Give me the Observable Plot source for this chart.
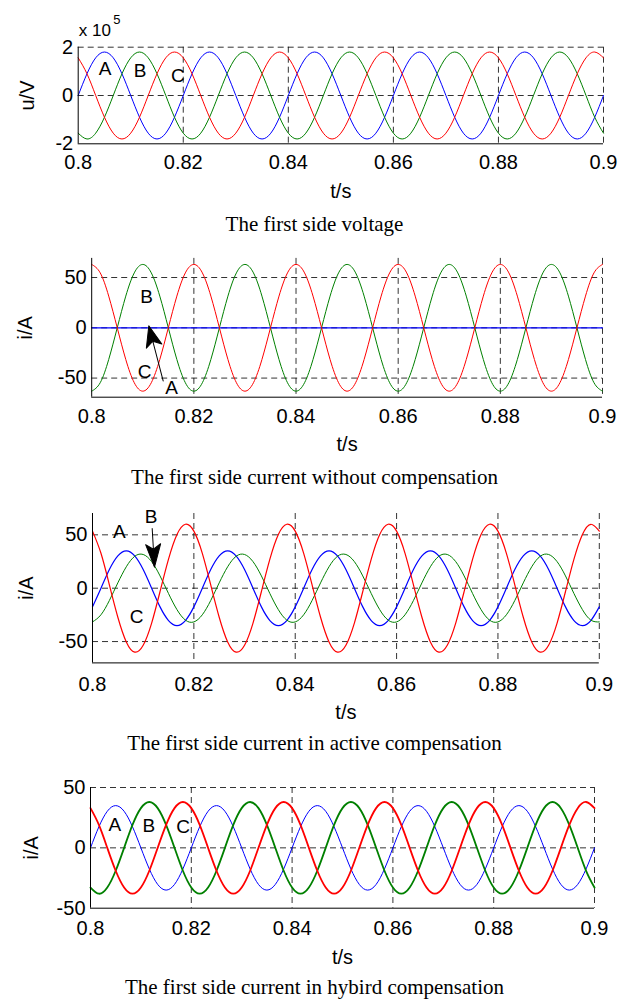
<!DOCTYPE html>
<html>
<head>
<meta charset="utf-8">
<script src="https://cdn.jsdelivr.net/npm/d3@7"></script>
<script src="https://cdn.jsdelivr.net/npm/@observablehq/plot@0.6"></script>
<style>
  body { margin: 0; background: #fff; }
  #wrap { position: relative; width: 622px; height: 999px; overflow: hidden; background: #fff; }
  .cap { position: absolute; left: 0; width: 629px; text-align: center; font-family: "Liberation Serif", "Times New Roman", serif; font-size: 21px; line-height: 21px; color: #000; z-index: 2; white-space: nowrap; }
</style>
</head>
<body>
<div id="wrap"></div>
<script>
// ---------- shared time axis (s) ----------
const t = [0.8,0.80167,0.80333,0.805,0.80667,0.80833,
  0.81,0.81167,0.81333,0.815,0.81667,0.81833,
  0.82,0.82167,0.82333,0.825,0.82667,0.82833,
  0.83,0.83167,0.83333,0.835,0.83667,0.83833,
  0.84,0.84167,0.84333,0.845,0.84667,0.84833,
  0.85,0.85167,0.85333,0.855,0.85667,0.85833,
  0.86,0.86167,0.86333,0.865,0.86667,0.86833,
  0.87,0.87167,0.87333,0.875,0.87667,0.87833,
  0.88,0.88167,0.88333,0.885,0.88667,0.88833,
  0.89,0.89167,0.89333,0.895,0.89667,0.89833,
  0.9];

const xDomain = [0.8, 0.9];
const xTicks = [0.8, 0.82, 0.84, 0.86, 0.88, 0.9];
const xTickLabels = ["0.8", "0.82", "0.84", "0.86", "0.88", "0.9"];
const xLabel = "t/s";
const phases = ["A", "B", "C"];

// ---------- panel 1: first side voltage (x 10^5 V) ----------
const p1A = [0,0.9,1.56,1.8,1.56,0.9,0,-0.9,-1.56,-1.8,-1.56,-0.9,
  0,0.9,1.56,1.8,1.56,0.9,0,-0.9,-1.56,-1.8,-1.56,-0.9,
  0,0.9,1.56,1.8,1.56,0.9,0,-0.9,-1.56,-1.8,-1.56,-0.9,
  0,0.9,1.56,1.8,1.56,0.9,0,-0.9,-1.56,-1.8,-1.56,-0.9,
  0,0.9,1.56,1.8,1.56,0.9,0,-0.9,-1.56,-1.8,-1.56,-0.9,
  0];
const p1B = [-1.56,-1.8,-1.56,-0.9,0,0.9,1.56,1.8,1.56,0.9,0,-0.9,
  -1.56,-1.8,-1.56,-0.9,0,0.9,1.56,1.8,1.56,0.9,0,-0.9,
  -1.56,-1.8,-1.56,-0.9,0,0.9,1.56,1.8,1.56,0.9,0,-0.9,
  -1.56,-1.8,-1.56,-0.9,0,0.9,1.56,1.8,1.56,0.9,0,-0.9,
  -1.56,-1.8,-1.56,-0.9,0,0.9,1.56,1.8,1.56,0.9,0,-0.9,
  -1.56];
const p1C = [1.56,0.9,0,-0.9,-1.56,-1.8,-1.56,-0.9,0,0.9,1.56,1.8,
  1.56,0.9,0,-0.9,-1.56,-1.8,-1.56,-0.9,0,0.9,1.56,1.8,
  1.56,0.9,0,-0.9,-1.56,-1.8,-1.56,-0.9,0,0.9,1.56,1.8,
  1.56,0.9,0,-0.9,-1.56,-1.8,-1.56,-0.9,0,0.9,1.56,1.8,
  1.56,0.9,0,-0.9,-1.56,-1.8,-1.56,-0.9,0,0.9,1.56,1.8,
  1.56];
const p1YDomain = [-2, 2];
const p1YTicks = [-2, 0, 2];
const p1YTickLabels = ["-2", "0", "2"];
const p1YLabel = "u/V";
const p1Scale = ["x 10", "5"];
const p1LabelText = ["A", "B", "C"];
const p1LabelT = [0.80514, 0.81176, 0.81899];
const p1LabelV = [1.09, 1.02, 0.81];

// ---------- panel 2: current without compensation (A) ----------
const p2A = [0,0,0,0,0,0,0,0,0,0,0,0,
  0,0,0,0,0,0,0,0,0,0,0,0,
  0,0,0,0,0,0,0,0,0,0,0,0,
  0,0,0,0,0,0,0,0,0,0,0,0,
  0,0,0,0,0,0,0,0,0,0,0,0,
  0];
const p2B = [-63,-54.6,-31.5,0,31.5,54.6,63,54.6,31.5,0,-31.5,-54.6,
  -63,-54.6,-31.5,0,31.5,54.6,63,54.6,31.5,0,-31.5,-54.6,
  -63,-54.6,-31.5,0,31.5,54.6,63,54.6,31.5,0,-31.5,-54.6,
  -63,-54.6,-31.5,0,31.5,54.6,63,54.6,31.5,0,-31.5,-54.6,
  -63,-54.6,-31.5,0,31.5,54.6,63,54.6,31.5,0,-31.5,-54.6,
  -63];
const p2C = [63,54.6,31.5,0,-31.5,-54.6,-63,-54.6,-31.5,0,31.5,54.6,
  63,54.6,31.5,0,-31.5,-54.6,-63,-54.6,-31.5,0,31.5,54.6,
  63,54.6,31.5,0,-31.5,-54.6,-63,-54.6,-31.5,0,31.5,54.6,
  63,54.6,31.5,0,-31.5,-54.6,-63,-54.6,-31.5,0,31.5,54.6,
  63,54.6,31.5,0,-31.5,-54.6,-63,-54.6,-31.5,0,31.5,54.6,
  63];
const p2YDomain = [-69, 69];
const p2YTicks = [-50, 0, 50];
const p2YTickLabels = ["-50", "0", "50"];
const p2LabelText = ["B", "C", "A"];
const p2LabelT = [0.81073, 0.81034, 0.81562];
const p2LabelV = [30.4, -44.1, -59.3];
const p2ArrowT = [0.81118];
const p2ArrowV = [2];

// ---------- panel 3: current in active compensation (A) ----------
const p3A = [-17.5,0,17.5,30.3,35,30.3,17.5,0,-17.5,-30.3,-35,-30.3,
  -17.5,0,17.5,30.3,35,30.3,17.5,0,-17.5,-30.3,-35,-30.3,
  -17.5,0,17.5,30.3,35,30.3,17.5,0,-17.5,-30.3,-35,-30.3,
  -17.5,0,17.5,30.3,35,30.3,17.5,0,-17.5,-30.3,-35,-30.3,
  -17.5,0,17.5,30.3,35,30.3,17.5,0,-17.5,-30.3,-35,-30.3,
  -17.5];
const p3B = [-31.6,-24.9,-11.5,5,20.1,29.9,31.6,24.9,11.5,-5,-20.1,-29.9,
  -31.6,-24.9,-11.5,5,20.1,29.9,31.6,24.9,11.5,-5,-20.1,-29.9,
  -31.6,-24.9,-11.5,5,20.1,29.9,31.6,24.9,11.5,-5,-20.1,-29.9,
  -31.6,-24.9,-11.5,5,20.1,29.9,31.6,24.9,11.5,-5,-20.1,-29.9,
  -31.6,-24.9,-11.5,5,20.1,29.9,31.6,24.9,11.5,-5,-20.1,-29.9,
  -31.6];
const p3C = [53.5,32.7,3.1,-27.2,-50.3,-59.9,-53.5,-32.7,-3.1,27.2,50.3,59.9,
  53.5,32.7,3.1,-27.2,-50.3,-59.9,-53.5,-32.7,-3.1,27.2,50.3,59.9,
  53.5,32.7,3.1,-27.2,-50.3,-59.9,-53.5,-32.7,-3.1,27.2,50.3,59.9,
  53.5,32.7,3.1,-27.2,-50.3,-59.9,-53.5,-32.7,-3.1,27.2,50.3,59.9,
  53.5,32.7,3.1,-27.2,-50.3,-59.9,-53.5,-32.7,-3.1,27.2,50.3,59.9,
  53.5];
const p3YDomain = [-70, 70];
const p3YTicks = [-50, 0, 50];
const p3YTickLabels = ["-50", "0", "50"];
const p3LabelText = ["A", "B", "C"];
const p3LabelT = [0.80529, 0.81156, 0.80868];
const p3LabelV = [52.7, 67.2, -27.2];
const p3ArrowT = [0.81223];
const p3ArrowV = [19.7];

// ---------- panel 4: current in hybrid compensation (A) ----------
const p4A = [0,17.5,30.3,35,30.3,17.5,0,-17.5,-30.3,-35,-30.3,-17.5,
  0,17.5,30.3,35,30.3,17.5,0,-17.5,-30.3,-35,-30.3,-17.5,
  0,17.5,30.3,35,30.3,17.5,0,-17.5,-30.3,-35,-30.3,-17.5,
  0,17.5,30.3,35,30.3,17.5,0,-17.5,-30.3,-35,-30.3,-17.5,
  0,17.5,30.3,35,30.3,17.5,0,-17.5,-30.3,-35,-30.3,-17.5,
  0];
const p4B = [-32.9,-38,-32.9,-19,0,19,32.9,38,32.9,19,0,-19,
  -32.9,-38,-32.9,-19,0,19,32.9,38,32.9,19,0,-19,
  -32.9,-38,-32.9,-19,0,19,32.9,38,32.9,19,0,-19,
  -32.9,-38,-32.9,-19,0,19,32.9,38,32.9,19,0,-19,
  -32.9,-38,-32.9,-19,0,19,32.9,38,32.9,19,0,-19,
  -32.9];
const p4C = [32.9,19,0,-19,-32.9,-38,-32.9,-19,0,19,32.9,38,
  32.9,19,0,-19,-32.9,-38,-32.9,-19,0,19,32.9,38,
  32.9,19,0,-19,-32.9,-38,-32.9,-19,0,19,32.9,38,
  32.9,19,0,-19,-32.9,-38,-32.9,-19,0,19,32.9,38,
  32.9,19,0,-19,-32.9,-38,-32.9,-19,0,19,32.9,38,
  32.9];
const p4YDomain = [-50, 50];
const p4YTicks = [-50, 0, 50];
const p4YTickLabels = ["-50", "0", "50"];
const p4LabelText = ["A", "B", "C"];
const p4LabelT = [0.80482, 0.81157, 0.81839];
const p4LabelV = [18.8, 17.9, 17.3];

const iLabel = "i/A";
const captions = [
  "The first side voltage",
  "The first side current without compensation",
  "The first side current in active compensation",
  "The first side current in hybird compensation"
];

// ---------- drawing ----------
const colors = {A: "#0000ff", B: "#008000", C: "#ff0000"};
const wrap = document.getElementById("wrap");

function pick(ticks, labels) {
  return d => { const i = ticks.findIndex(v => Math.abs(v - d) < 1e-9); return i >= 0 ? labels[i] : ""; };
}

function arrowShape(headLen, halfW, notch) {
  return {
    draw(context, l) {
      context.moveTo(0, 0);
      context.lineTo(0, -l + headLen - notch);
      context.moveTo(0, -l);
      context.lineTo(halfW, -l + headLen);
      context.lineTo(0, -l + headLen - notch);
      context.lineTo(-halfW, -l + headLen);
      context.closePath();
    }
  };
}

function makePanel(c) {
  const marks = [];
  const dash = {stroke: "#000", strokeOpacity: 0.8, strokeWidth: 1, strokeDasharray: "6,4"};
  marks.push(Plot.ruleX(xTicks.filter(v => v !== xDomain[0]), dash));
  marks.push(Plot.ruleY(c.yTicks.filter(v => v !== c.yDomain[0]), dash));
  c.series.forEach((vals, k) => {
    const rows = t.map((tt, i) => ({t: tt, v: vals[i]}));
    marks.push(Plot.line(rows, {x: "t", y: "v", stroke: colors[phases[k]], strokeWidth: c.widths[k], curve: "natural"}));
  });
  marks.push(Plot.ruleX([xDomain[0]], {stroke: "#000", strokeWidth: 1}));
  marks.push(Plot.ruleY([c.yDomain[0]], {stroke: "#000", strokeWidth: 1}));
  marks.push(Plot.axisX({ticks: xTicks, tickFormat: pick(xTicks, xTickLabels), tickSize: 0, tickPadding: c.xPad, label: null}));
  marks.push(Plot.axisY({ticks: c.yTicks, tickFormat: pick(c.yTicks, c.yTickLabels), tickSize: 0, tickPadding: 5, label: null}));
  marks.push(Plot.text([xLabel], {frameAnchor: "bottom", dy: c.xLabelDy, lineAnchor: "middle"}));
  marks.push(Plot.text([c.yLabel], {frameAnchor: "left", dx: c.yLabelX - c.ml, rotate: -90, textAnchor: "middle", lineAnchor: "middle"}));
  const lab = c.labelText.map((s, i) => ({s, t: c.labelT[i], v: c.labelV[i]}));
  marks.push(Plot.text(lab, {x: "t", y: "v", text: "s", fontSize: 19, lineAnchor: "middle"}));
  if (c.arrow) {
    const a = c.arrow;
    const rows = a.t.map((tt, i) => ({t: tt, v: a.v[i]}));
    marks.push(Plot.vector(rows, {x: "t", y: "v", length: a.length, rotate: a.rotate, anchor: "end",
      shape: arrowShape(a.head, a.halfW, a.notch), stroke: "#000", fill: "#000", strokeWidth: 1}));
  }
  if (c.extra) marks.push(...c.extra);
  const svg = Plot.plot({
    width: 622, height: c.height,
    marginTop: c.mt, marginBottom: c.mb, marginLeft: c.ml, marginRight: c.mr,
    x: {domain: xDomain},
    y: {domain: c.yDomain},
    style: {fontFamily: "'Liberation Sans', Arial, sans-serif", fontSize: "20px", background: "transparent", color: "#000", overflow: "visible"},
    marks
  });
  svg.style.position = "absolute";
  svg.style.left = "0px";
  svg.style.top = c.top + "px";
  wrap.appendChild(svg);
}

makePanel({
  top: 0, height: 245, mt: 46.7, mb: 101.7, ml: 77.7, mr: 19,
  yDomain: p1YDomain, yTicks: p1YTicks, yTickLabels: p1YTickLabels, yLabel: p1YLabel, yLabelX: 27,
  series: [p1A, p1B, p1C], widths: [1, 1, 1], xPad: 11.2, xLabelDy: 47.7,
  labelText: p1LabelText, labelT: p1LabelT, labelV: p1LabelV,
  extra: [
    Plot.text([p1Scale[0]], {frameAnchor: "top-left", textAnchor: "start", lineAnchor: "bottom", dx: 0.6, dy: -11.7, fontSize: 17}),
    Plot.text([p1Scale[1]], {frameAnchor: "top-left", textAnchor: "start", lineAnchor: "bottom", dx: 35, dy: -23.4, fontSize: 13})
  ]
});

makePanel({
  top: 240, height: 220, mt: 17.9, mb: 63.3, ml: 91.2, mr: 20,
  yDomain: p2YDomain, yTicks: p2YTicks, yTickLabels: p2YTickLabels, yLabel: iLabel, yLabelX: 25,
  series: [p2A, p2B, p2C], widths: [1.2, 1, 1], xPad: 11.2, xLabelDy: 47.3,
  labelText: p2LabelText, labelT: p2LabelT, labelV: p2LabelV,
  arrow: {t: p2ArrowT, v: p2ArrowV, length: 57, rotate: -14.6, head: 21, halfW: 8, notch: 5}
});

makePanel({
  top: 490, height: 230, mt: 23, mb: 57.6, ml: 92, mr: 23.2,
  yDomain: p3YDomain, yTicks: p3YTicks, yTickLabels: p3YTickLabels, yLabel: iLabel, yLabelX: 26,
  series: [p3A, p3B, p3C], widths: [1.2, 1, 1.2], xPad: 14, xLabelDy: 49.3,
  labelText: p3LabelText, labelT: p3LabelT, labelV: p3LabelV,
  arrow: {t: p3ArrowT, v: p3ArrowV, length: 38.7, rotate: 176.6, head: 23, halfW: 7.5, notch: 5}
});

makePanel({
  top: 750, height: 230, mt: 37, mb: 72.3, ml: 90, mr: 28,
  yDomain: p4YDomain, yTicks: p4YTicks, yTickLabels: p4YTickLabels, yLabel: iLabel, yLabelX: 31,
  series: [p4A, p4B, p4C], widths: [1, 1.8, 1.8], xPad: 12.3, xLabelDy: 49,
  labelText: p4LabelText, labelT: p4LabelT, labelV: p4LabelV
});

const capBaselines = [232, 484.5, 750.5, 995];
captions.forEach((txt, i) => {
  const d = document.createElement("div");
  d.className = "cap";
  d.style.top = (capBaselines[i] - 17.6) + "px";
  d.textContent = txt;
  wrap.appendChild(d);
});
</script>
</body>
</html>
